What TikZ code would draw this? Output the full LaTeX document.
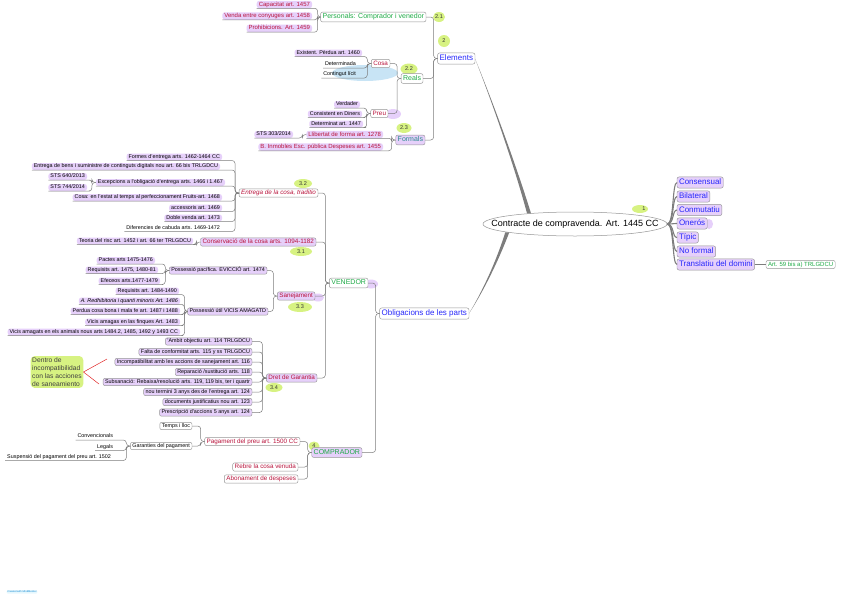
\documentclass[tikz,border=0pt]{standalone}
\usepackage{fontspec}
\setmainfont{Liberation Sans}
\usetikzlibrary{shapes.geometric,calc}
\pgfdeclarelayer{bg}
\pgfsetlayers{bg,main}
\definecolor{lav}{RGB}{230,208,250}
\definecolor{dred}{RGB}{185,20,60}
\definecolor{bblue}{RGB}{40,40,250}
\definecolor{mgreen}{RGB}{30,170,70}
\definecolor{teal2}{RGB}{40,140,140}
\definecolor{bord}{RGB}{150,150,150}
\definecolor{lc}{RGB}{125,125,125}
\definecolor{numg}{RGB}{215,242,130}
\definecolor{lblue}{RGB}{200,228,245}
\definecolor{redln}{RGB}{225,40,40}
\newcommand\fsz[1]{\fontsize{#1}{#1}\selectfont}
\newcommand\elb[3][4]{\draw[conn] (#2.west) -- ++(-#1,0) |- (#3.south east) -- (#3.south west);}
\newcommand\elbx[3][4]{\draw[conn] (#2.west) -- ++(-#1,0) |- (#3.east);}
\tikzset{
  nb/.style={inner xsep=2pt, outer sep=0pt},
  ulf/.style={nb, fill=lav, rounded corners=2.5pt, anchor=east, font=\fsz{5.4}, text height=4pt, text depth=1.2pt, inner ysep=0.9pt},
  ulw/.style={ulf, fill=none},
  rul/.style={ulf, text=dred, font=\fsz{6}, text height=4.4pt, text depth=1.3pt},
  bk/.style={nb, draw=bord, line width=0.45pt, fill=lav, rounded corners=2pt, anchor=east, font=\fsz{5.4}, text height=4pt, text depth=1.2pt, inner ysep=1.1pt},
  bkw/.style={bk, fill=white},
  rbx/.style={nb, draw=bord, line width=0.45pt, fill=white, rounded corners=2pt, anchor=east, font=\fsz{6.3}, text=dred, text height=4.6pt, text depth=1.4pt, inner ysep=1.2pt},
  gbx/.style={nb, draw=bord, line width=0.45pt, fill=white, rounded corners=2pt, anchor=east, font=\fsz{7}, text=mgreen, text height=5.1pt, text depth=1.5pt, inner ysep=1.6pt},
  bbx/.style={nb, draw=bord, line width=0.45pt, fill=white, rounded corners=2pt, anchor=east, font=\fsz{8}, text=bblue, text height=5.8pt, text depth=1.7pt, inner ysep=1.8pt},
  rbox/.style={bbx, fill=lav, anchor=west},
  gsm/.style={nb, draw=bord, line width=0.45pt, fill=white, rounded corners=2pt, anchor=west, font=\fsz{6}, text=mgreen, text height=4.4pt, text depth=1.3pt, inner ysep=1.2pt},
  numb/.style={ellipse, fill=numg, inner sep=0pt, font=\fsz{5.5}, text=black!80},
  mainst/.style={ellipse, draw=bord, line width=0.5pt, fill=white, minimum width=184pt, minimum height=24pt, inner sep=0pt, font=\fsz{9}},
  conn/.style={draw=lc, line width=0.5pt, rounded corners=3pt},
  fan/.style={draw=lc, line width=1.1pt},
}
\begin{document}
\begin{tikzpicture}[x=1pt,y=-1pt]
\useasboundingbox (0,0) rectangle (848,600);
\begin{pgfonlayer}{bg}
\fill[lblue] (365,73) ellipse (33 and 8);
\fill[lav] (393,114) ellipse (8 and 5);
\fill[lav] (371,284) ellipse (7 and 4.5);
\fill[lav] (318,297.5) ellipse (6 and 4);
\fill[lav] (709,224) ellipse (4 and 5);
\end{pgfonlayer}
% number labels
\node[numb, minimum width=16pt, minimum height=8pt] (n1) at (640,209) {\hspace*{8pt}1};
\node[numb, minimum width=12pt, minimum height=10pt] (n21) at (439,17) {2.1};
\node[numb, minimum width=12pt, minimum height=12pt] (n2) at (444,41) {2};
\node[numb, minimum width=17pt, minimum height=11pt] (n22) at (409,69) {2.2};
\node[numb, minimum width=15pt, minimum height=10pt] (n23) at (404,128) {2.3};
\node[numb, minimum width=18pt, minimum height=9pt] (n32) at (303,183.5) {3.2};
\node[numb, minimum width=22pt, minimum height=9pt] (n31) at (301,251.5) {3.1};
\node[numb, minimum width=24pt, minimum height=10pt] (n33) at (300,307) {3.3};
\node[numb, minimum width=17pt, minimum height=9pt] (n34) at (274,387.5) {3.4};
\node[numb, minimum width=11pt, minimum height=9pt] (n4) at (314,446) {4};
% main
\node[mainst] (main) at (575,224) {\makebox[0pt]{Contracte de compravenda. Art. 1445 CC}};
% right side
\node[rbox] (cons) at (677,182.5) {Consensual};
\node[rbox] (bilat) at (677,196.5) {Bilateral};
\node[rbox] (conm) at (677,210) {Conmutatiu};
\node[rbox] (oner) at (677,223.5) {Onerós};
\node[rbox] (tipic) at (677,237.5) {Típic};
\node[rbox] (noform) at (677,251.5) {No formal};
\node[rbox] (trans) at (677,264.5) {Translatiu del domini};
\node[gsm] (art59) at (766,264.5) {Art. 59 bis a) TRLGDCU};
% elements
\node[bbx] (elem) at (475,58.5) {Elements};
\node[gbx] (pers) at (426,17) {Personals: Comprador i venedor};
\node[gbx] (reals) at (423,78.5) {Reals};
\node[gbx, text=teal2, fill=lav] (formals) at (425,140) {Formals};
\node[rul] (capac) at (312,4.5) {Capacitat art. 1457};
\node[rul] (venda) at (312,16) {Venda entre conyuges art. 1458};
\node[rul] (prohib) at (312,28.4) {Prohibicions. Art. 1459};
\node[rbx] (cosa) at (390,63.5) {Cosa};
\node[rbx] (preu) at (388,113.5) {Preu};
\node[ulf] (exist) at (362,53) {Existent. Pèrdua art. 1460};
\node[ulw] (determ) at (358,64.5) {Determinada};
\node[ulw] (conting) at (358,74.5) {Contingut lícit};
\node[ulf] (verd) at (360,104.5) {Verdader};
\node[ulf] (consist) at (362,114) {Consistent en Diners};
\node[ulf] (determinat) at (363,124) {Determinat art. 1447};
\node[rul] (llib) at (383,134.5) {Llibertat de forma art. 1278};
\node[ulf] (sts303) at (293,134.5) {STS 303/2014};
\node[rul] (binm) at (383,147) {B. Inmobles Esc. pública Despeses art. 1455};
% obligacions
\node[bbx] (oblig) at (469,313.5) {Obligacions de les parts};
\node[gbx] (vened) at (368,283) {VENEDOR};
\node[gbx, fill=lav] (compr) at (362,452.5) {COMPRADOR};
\node[rbx] (entrega) at (318,193) {\itshape Entrega de la cosa, traditio};
\node[rbx, fill=lav] (conserv) at (316,242) {Conservació de la cosa arts. 1094-1182};
\node[rbx, fill=lav] (sanej) at (315,296) {Sanejament};
\node[rbx, fill=lav] (dret) at (317,378) {Dret de Garantia};
\node[ulf] (formes) at (222,157) {Formes d'entrega arts. 1462-1464 CC};
\node[ulf] (entbens) at (220,166.5) {Entrega  de bens i suministre de continguts digitals nou art. 66 bis TRLGDCU};
\node[ulf] (excep) at (225,182.5) {Excepcions  a l'obligació d'entrega arts. 1466 i 1.467};
\node[ulf] (sts640) at (87,176.5) {STS 640/2013};
\node[ulf] (sts744) at (87,187.5) {STS 744/2014};
\node[ulf] (cosaest) at (222,197.5) {Cosa: en l'estat al temps al perfeccionament  Fruits-art. 1468};
\node[ulf] (access) at (222,208) {accessoris art. 1469};
\node[ulf] (doble) at (222,218) {Doble venda art. 1473};
\node[ulw] (dif) at (222,228) {Diferencies de cabuda arts. 1469-1472};
\node[ulf] (teoria) at (193,241) {Teoria del risc art. 1452 i art. 66 ter TRLGDCU};
\node[bk] (posspac) at (267,270.5) {Possessió pacífica. EVICCIÓ art. 1474};
\node[bk] (possutil) at (268,311.5) {Possessió útil VICIS AMAGATD};
\node[ulf] (pactes) at (155,260.5) {Pactes arts 1475-1476};
\node[ulf] (req1) at (158,270) {Requisits art. 1475, 1480-81};
\node[ulf] (efec) at (160,281) {Efeceos arts.1477-1479};
\node[ulf] (req2) at (179,291) {Requisits art. 1484-1490};
\node[ulf] (redh) at (180,301) {\itshape A. Redhibitoria i quanti minoris Art. 1486};
\node[ulf] (perd) at (180,311) {Perdua cosa bona i mala fe art. 1487 i 1488};
\node[ulf] (vicf) at (180,322) {Vicis amagas en las finques Art. 1483};
\node[ulf] (vica) at (180,332) {Vicis amagats en els animals  nous arts 1484.2, 1485, 1492 y 1493 CC};
\node[bk] (ambit) at (252,341.5) {'Ambit objectiu art. 114 TRLGDCU};
\node[bk] (falta) at (252,352) {Falta de conformitat arts. 115 y ss TRLGDCU};
\node[bk] (incomp) at (252,362) {Incompatibilitat amb les accions de sanejament art. 116};
\node[bk] (repar) at (252,372) {Reparació /sustitució arts. 118};
\node[bk] (subs) at (252,382) {Subsanació: Rebaixa/resolució arts. 119, 119 bis, ter i quartr};
\node[bk] (nou) at (252,392) {nou termini 3 anys des de l'entrega art. 124};
\node[bk] (docs) at (252,402) {documents justificatius nou art. 123};
\node[bk] (presc) at (252,412.5) {Prescripció d'accions 5 anys art. 124};
\node[rbx] (pag) at (300,441.5) {Pagament del preu art. 1500 CC};
\node[rbx] (rebre) at (298,467) {Rebre la cosa venuda};
\node[rbx] (abon) at (298,479) {Abonament de despeses};
\node[bkw] (temps) at (192,426) {Temps i lloc};
\node[bkw] (garant) at (192,446) {Garanties del pagament};
\node[ulw] (conv) at (115,436.5) {Convencionals};
\node[ulw] (legals) at (115,447) {Legals};
\node[ulw] (susp) at (113,457) {Suspensió del pagament del preu art. 1502};
% note
\node[fill=numg, rounded corners=4pt, inner sep=1.5pt, align=left, font=\fontsize{6.7}{8}\selectfont, text=black!75] (nota) at (57,372) {Dentro de\\incompatibilidad\\con las acciones\\de saneamiento};
\coordinate (r1) at (107,359);
\coordinate (r2) at (99,384);
\draw[redln, line width=0.5pt] (nota.east) -- (r1);
\draw[redln, line width=0.5pt] (nota.east) -- (r2);
% credit
\node[font=\fsz{2.6}, text=cyan!70!blue, fill=cyan!10, rounded corners=1pt, inner sep=0.6pt] (credit) at (22,592) {Created with MindMeister};
% thick connectors (tapered)
\fill[lc] ($(main.167)+(2,0)$) .. controls (516,165) and (494,105) .. (elem.east) .. controls (493,105) and (514,165) .. ($(main.167)+(-2,0)$) -- cycle;
\fill[lc] ($(main.187)+(2,0)$) .. controls (498,262) and (483,292) .. (oblig.east) .. controls (482,292) and (496,262) .. ($(main.187)+(-2,0)$) -- cycle;
\foreach \n in {cons,bilat,conm,oner,tipic,noform,trans}
  \draw[fan] (main.east) .. controls +(7,0) and +(-5,0) .. (\n.west);
\draw[conn] (trans.east) -- (art59.west);
% tree connectors
\elbx{elem}{pers} \elbx{elem}{reals} \elbx{elem}{formals}
\elb[3]{pers}{capac} \elb[3]{pers}{venda} \elb[3]{pers}{prohib}
\elbx{reals}{cosa} \elbx{reals}{preu}
\elb{cosa}{exist} \elb{cosa}{determ} \elb{cosa}{conting}
\elb{preu}{verd} \elb{preu}{consist} \elb{preu}{determinat}
\elb{formals}{llib} \elb{formals}{binm}
\elb{llib}{sts303}
\elbx{oblig}{vened} \elbx{oblig}{compr}
\elbx{vened}{entrega} \elbx{vened}{conserv} \elbx{vened}{sanej} \elbx{vened}{dret}
\elb{entrega}{formes} \elb{entrega}{entbens} \elb{entrega}{excep} \elb{entrega}{cosaest}
\elb{entrega}{access} \elb{entrega}{doble} \elb{entrega}{dif}
\elb{excep}{sts640} \elb{excep}{sts744}
\elb{conserv}{teoria}
\elbx{sanej}{posspac} \elbx{sanej}{possutil}
\elb{posspac}{pactes} \elb{posspac}{req1} \elb{posspac}{efec}
\elb[3]{possutil}{req2} \elb[3]{possutil}{redh} \elb[3]{possutil}{perd} \elb[3]{possutil}{vicf} \elb[3]{possutil}{vica}
\elbx{dret}{ambit} \elbx{dret}{falta} \elbx{dret}{incomp} \elbx{dret}{repar}
\elbx{dret}{subs} \elbx{dret}{nou} \elbx{dret}{docs} \elbx{dret}{presc}
\elbx{compr}{pag} \elbx{compr}{rebre} \elbx{compr}{abon}
\elbx{pag}{temps} \elbx{pag}{garant}
\elb{garant}{conv} \elb{garant}{legals} \elb{garant}{susp}
\end{tikzpicture}
\end{document}
